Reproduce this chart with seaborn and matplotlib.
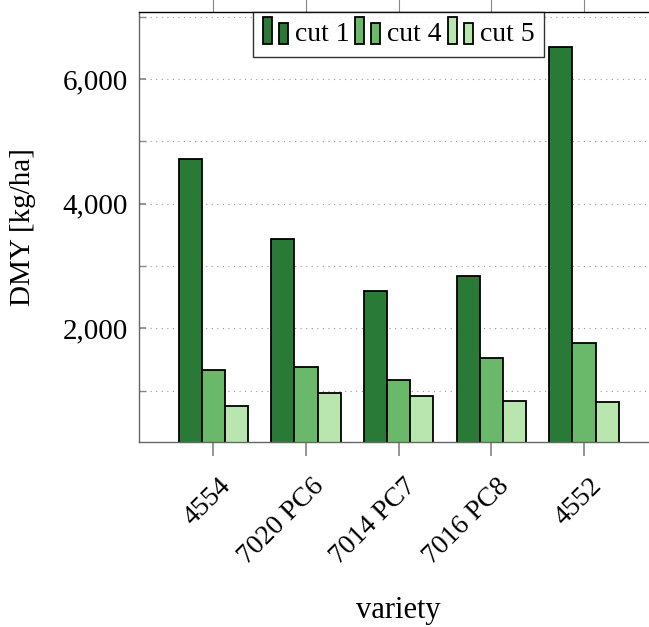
import matplotlib
matplotlib.use("Agg")
import matplotlib.pyplot as plt
import matplotlib.transforms as mtransforms
import seaborn as sns
import pandas as pd
from matplotlib.patches import Rectangle
from matplotlib.legend_handler import HandlerBase
from matplotlib.ticker import FuncFormatter, MultipleLocator

varieties = ["4554", "7020 PC6", "7014 PC7", "7016 PC8", "4552"]
cuts = ["cut 1", "cut 4", "cut 5"]
cut1 = [4711, 3433, 2599, 2835, 6509]
cut4 = [1323, 1371, 1175, 1519, 1769]
cut5 = [747, 968, 920, 837, 823]
colors = ["#2a7a37", "#6ab96a", "#b9e5ae"]

rows = []
for cut, vals in zip(cuts, [cut1, cut4, cut5]):
    for v, val in zip(varieties, vals):
        rows.append({"variety": v, "cut": cut, "DMY": val})
df = pd.DataFrame(rows)

sns.set_theme(style="white")
plt.rcParams["font.family"] = ["Liberation Serif", "DejaVu Serif"]
plt.rcParams["text.color"] = "black"
plt.rcParams["axes.labelcolor"] = "black"
plt.rcParams["xtick.labelcolor"] = "black"
plt.rcParams["ytick.labelcolor"] = "black"

W, H = 649, 627
fig = plt.figure(figsize=(W / 100, H / 100), dpi=100)
left, right, top, bottom = 139.3, 658, 11.7, 442
ax = fig.add_axes([left / W, 1 - bottom / H, (right - left) / W, (bottom - top) / H])

sns.barplot(data=df, x="variety", y="DMY", hue="cut", order=varieties,
            hue_order=cuts, palette=colors, width=0.75, ax=ax,
            edgecolor="black", linewidth=1.3, saturation=1, legend=False)

ax.set_xlim(-0.798, 4.798)
ax.set_ylim(175, 7080)

ax.yaxis.set_major_locator(MultipleLocator(2000))
ax.yaxis.set_minor_locator(MultipleLocator(1000))
ax.yaxis.set_major_formatter(FuncFormatter(lambda v, p: f"{int(v):,}"))
ax.grid(True, which="both", axis="y", linestyle=(0, (1, 4)), color="#999999", linewidth=0.8)
ax.set_axisbelow(True)

ax.tick_params(axis="y", which="both", direction="in", length=5, color="#888888",
               labelsize=21, left=True, right=False, pad=8)
ax.tick_params(axis="x", which="major", direction="out", length=10, color="#888888",
               labelsize=20, bottom=True, pad=4)
offset = mtransforms.ScaledTranslation(14 / 100, -21 / 100, fig.dpi_scale_trans)
for lbl in ax.get_xticklabels():
    lbl.set_rotation(45)
    lbl.set_ha("right")
    lbl.set_va("center")
    lbl.set_rotation_mode("anchor")
    lbl.set_transform(lbl.get_transform() + offset)

sec = ax.secondary_xaxis("top")
sec.set_xticks(range(len(varieties)))
sec.set_xticklabels([])
sec.tick_params(direction="out", length=14, color="#888888", width=0.8)
sec.spines["top"].set_visible(False)

for s in ["left", "bottom"]:
    ax.spines[s].set_color("#666666")
    ax.spines[s].set_linewidth(1.0)
ax.spines["top"].set_color("black")
ax.spines["top"].set_linewidth(1.0)
ax.spines["right"].set_visible(False)

ax.set_xlabel("variety", fontsize=22)
ax.xaxis.set_label_coords(0.5, -0.392)
ax.xaxis.label.set_va("center")
ax.set_ylabel("DMY [kg/ha]", fontsize=21)
ax.yaxis.set_label_coords(-0.225, 0.5)
ax.yaxis.label.set_va("center")


class TwoBarHandler(HandlerBase):
    def create_artists(self, legend, orig_handle, xdescent, ydescent, width, height, fontsize, trans):
        c = orig_handle.get_facecolor()
        bw = width * 0.36
        y0 = -ydescent - height * 0.1
        r1 = Rectangle((-xdescent, y0), bw, height * 1.3,
                       facecolor=c, edgecolor="black", linewidth=1.3, transform=trans)
        r2 = Rectangle((-xdescent + width * 0.64, y0), bw, height * 1.0,
                       facecolor=c, edgecolor="black", linewidth=1.3, transform=trans)
        return [r1, r2]


handles = [Rectangle((0, 0), 1, 1, facecolor=c) for c in colors]
leg = ax.legend(handles, cuts, loc="upper center", bbox_to_anchor=(0.5, 1.0), ncol=3,
                fontsize=20, handler_map={Rectangle: TwoBarHandler()},
                handlelength=0.9, handleheight=0.75, handletextpad=0.25, columnspacing=0.22,
                borderpad=0.35, borderaxespad=0, frameon=True, fancybox=False)
leg.get_frame().set_edgecolor("black")
leg.get_frame().set_linewidth(1.0)

fig.savefig("out.png", dpi=100)
